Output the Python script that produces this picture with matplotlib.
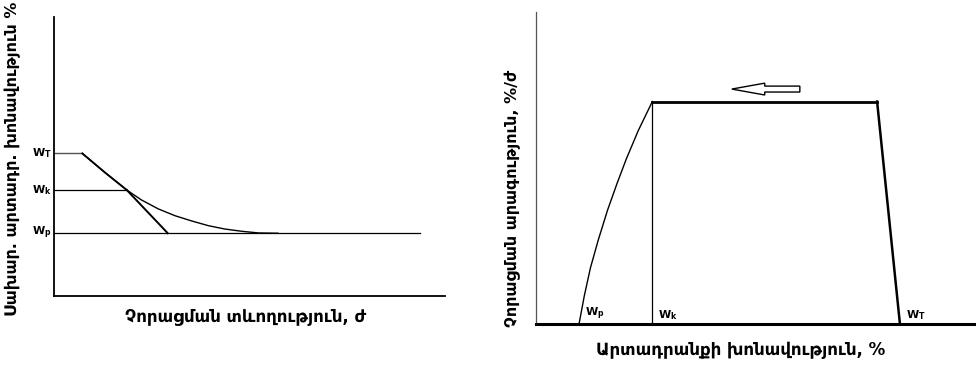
import matplotlib
matplotlib.use("Agg")
import matplotlib.pyplot as plt
from matplotlib.patches import FancyArrow

plt.rcParams['font.family'] = ['DejaVu Sans']

# left chart: moisture vs drying time (arbitrary units 0..100)
lvl_T = 51.1
lvl_k = 38.0
lvl_p = 22.5
curve_x = [7.24, 13.0, 18.6, 22.4, 26.7, 30.9, 35.2, 39.5, 43.7, 48.0, 52.3, 57.3]
curve_y = [51.1, 44.3, 38.0, 34.4, 31.2, 28.8, 26.9, 25.2, 24.0, 23.2, 22.6, 22.5]
line_end_x = 29.1
wp_end_x = 93.6
left_labels = [r"$\mathbf{W_T}$", r"$\mathbf{W_k}$", r"$\mathbf{W_p}$"]

# right chart: drying rate vs product moisture
rise_x = [9.8, 11.0, 12.4, 14.2, 16.3, 18.5, 20.6, 23.3, 26.5]
rise_y = [0.0, 9.0, 18.0, 27.0, 36.5, 45.2, 53.0, 62.0, 71.3]
flat_end_x = 77.7
fall_end_x = 82.9
arrow_from = 60.1
arrow_to = 44.6
arrow_y = 75.3
right_labels = [r"$\mathbf{W_p}$", r"$\mathbf{W_k}$", r"$\mathbf{W_T}$"]

fig = plt.figure(figsize=(9.76, 3.65), dpi=100)

ax1 = fig.add_axes([54/976, 1-296/365, 391/976, 279/365])
ax1.set_xlim(0, 100)
ax1.set_ylim(0, 100)
for s in ['top', 'right']:
    ax1.spines[s].set_visible(False)
ax1.spines['left'].set_linewidth(1.3)
ax1.spines['bottom'].set_linewidth(1.3)
ax1.set_xticks([])
ax1.set_yticks([])

ax1.plot([0, curve_x[0]], [lvl_T, lvl_T], color='#555555', lw=1.0)
ax1.plot(curve_x, curve_y, color='black', lw=1.0)
ax1.plot(curve_x[:3], curve_y[:3], color='black', lw=1.3)
ax1.plot([curve_x[2], line_end_x], [lvl_k, lvl_p], color='black', lw=1.4)
ax1.plot([0, curve_x[2]], [lvl_k, lvl_k], color='black', lw=0.9)
ax1.plot([0, wp_end_x], [lvl_p, lvl_p], color='black', lw=0.9)
for lab, lv in zip(left_labels, [lvl_T, lvl_k, lvl_p]):
    ax1.text(-0.6, lv, lab, ha='right', va='center', fontsize=8)

ax1.set_xlabel("Չորացման տևողություն, ժ", fontsize=12, fontweight='bold')
ax1.xaxis.set_label_coords(0.491, -0.04)
ax1.set_ylabel("Սախար. արտադր. խոնավություն %", fontsize=11.5, fontweight='bold')
ax1.yaxis.set_label_coords(-0.085, 0.49)

ax2 = fig.add_axes([536/976, 1-324/365, 439/976, 312/365])
ax2.set_xlim(0, 100)
ax2.set_ylim(0, 100)
for s in ['top', 'right']:
    ax2.spines[s].set_visible(False)
ax2.spines['left'].set_linewidth(0.9)
ax2.spines['left'].set_color('#555555')
ax2.spines['bottom'].set_linewidth(2.2)
ax2.set_xticks([])
ax2.set_yticks([])

ax2.plot(rise_x, rise_y, color='black', lw=1.0)
ax2.plot([rise_x[-1], rise_x[-1]], [0, rise_y[-1]], color='black', lw=0.9)
ax2.plot([rise_x[-1], flat_end_x], [rise_y[-1], rise_y[-1]], color='black', lw=2.0)
ax2.plot([flat_end_x, fall_end_x], [rise_y[-1], 0], color='black', lw=1.8)
ax2.add_patch(FancyArrow(arrow_from, arrow_y, arrow_to - arrow_from, 0,
                         width=1.9, head_width=3.8, head_length=7.5,
                         length_includes_head=True, facecolor='white',
                         edgecolor='black', lw=1.0))
for lab, xv in zip(right_labels, [rise_x[0], rise_x[-1], fall_end_x]):
    ax2.text(xv + 1.3, 0.8, lab, ha='left', va='bottom', fontsize=8)

ax2.set_xlabel("Արտադրանքի խոնավություն, %", fontsize=12, fontweight='bold')
ax2.xaxis.set_label_coords(0.465, -0.055)
ax2.set_ylabel("Չորացման արագություն, %/ժ", fontsize=11.5, fontweight='bold')
ax2.yaxis.set_label_coords(-0.034, 0.404)

fig.savefig("out.png", dpi=100)
